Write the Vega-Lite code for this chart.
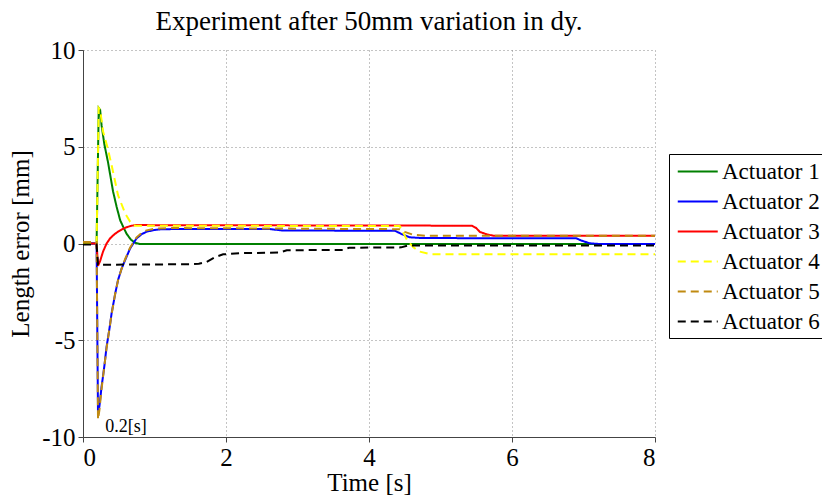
{
  "$schema": "https://vega.github.io/schema/vega-lite/v6.json",
  "autosize": {"type": "none"},
  "width": 572,
  "height": 387,
  "padding": {"left": 83, "top": 50, "right": 167, "bottom": 60},
  "background": "white",
  "title": {"text": "Experiment after 50mm variation in dy.", "fontSize": 27, "font": "Liberation Serif", "fontWeight": "normal", "color": "black", "offset": 2, "anchor": "middle"},
  "config": {
    "font": "Liberation Serif",
    "view": {"stroke": null},
    "axis": {
      "labelFont": "Liberation Serif", "titleFont": "Liberation Serif",
      "labelFontSize": 25, "titleFontSize": 25, "titleFontWeight": "normal",
      "labelColor": "black", "titleColor": "black",
      "domainColor": "#444", "tickColor": "#444", "tickSize": 5,
      "gridColor": "#888", "gridDash": [1, 3], "gridWidth": 1, "gridOpacity": 1,
      "labelPadding": 3
    },
    "legend": {
      "labelFont": "Liberation Serif", "labelFontSize": 23, "labelColor": "black"
    }
  },
  "layer": [
    {
      "data": {"values": [
        {"s":"Actuator 1","t":0,"v":0},{"s":"Actuator 1","t":0.19,"v":0},{"s":"Actuator 1","t":0.22,"v":7.0},{"s":"Actuator 1","t":0.24,"v":6.9},{"s":"Actuator 1","t":0.26,"v":6.1},{"s":"Actuator 1","t":0.30,"v":5.1},{"s":"Actuator 1","t":0.35,"v":4.2},{"s":"Actuator 1","t":0.42,"v":2.7},{"s":"Actuator 1","t":0.47,"v":1.9},{"s":"Actuator 1","t":0.52,"v":1.2},{"s":"Actuator 1","t":0.57,"v":0.8},{"s":"Actuator 1","t":0.61,"v":0.5},{"s":"Actuator 1","t":0.67,"v":0.2},{"s":"Actuator 1","t":0.73,"v":0.03},{"s":"Actuator 1","t":0.8,"v":-0.03},{"s":"Actuator 1","t":8,"v":-0.03},
        {"s":"Actuator 2","t":0,"v":0},{"s":"Actuator 2","t":0.19,"v":0},{"s":"Actuator 2","t":0.21,"v":-8.86},{"s":"Actuator 2","t":0.23,"v":-8.4},{"s":"Actuator 2","t":0.26,"v":-7.4},{"s":"Actuator 2","t":0.30,"v":-6.3},{"s":"Actuator 2","t":0.33,"v":-5.33},{"s":"Actuator 2","t":0.37,"v":-4.4},{"s":"Actuator 2","t":0.40,"v":-3.61},{"s":"Actuator 2","t":0.45,"v":-2.6},{"s":"Actuator 2","t":0.49,"v":-1.89},{"s":"Actuator 2","t":0.54,"v":-1.3},{"s":"Actuator 2","t":0.59,"v":-0.85},{"s":"Actuator 2","t":0.66,"v":-0.25},{"s":"Actuator 2","t":0.75,"v":0.27},{"s":"Actuator 2","t":0.82,"v":0.48},{"s":"Actuator 2","t":0.89,"v":0.61},{"s":"Actuator 2","t":1.0,"v":0.7},{"s":"Actuator 2","t":1.08,"v":0.73},{"s":"Actuator 2","t":1.3,"v":0.75},{"s":"Actuator 2","t":2.6,"v":0.75},{"s":"Actuator 2","t":2.8,"v":0.67},{"s":"Actuator 2","t":4.36,"v":0.66},{"s":"Actuator 2","t":4.45,"v":0.5},{"s":"Actuator 2","t":4.57,"v":0.32},{"s":"Actuator 2","t":4.75,"v":0.28},{"s":"Actuator 2","t":6.9,"v":0.27},{"s":"Actuator 2","t":6.97,"v":0.15},{"s":"Actuator 2","t":7.09,"v":0.01},{"s":"Actuator 2","t":7.2,"v":-0.02},{"s":"Actuator 2","t":8,"v":-0.02},
        {"s":"Actuator 3","t":0,"v":0},{"s":"Actuator 3","t":0.19,"v":0},{"s":"Actuator 3","t":0.21,"v":-1.15},{"s":"Actuator 3","t":0.24,"v":-0.9},{"s":"Actuator 3","t":0.28,"v":-0.42},{"s":"Actuator 3","t":0.33,"v":0},{"s":"Actuator 3","t":0.38,"v":0.27},{"s":"Actuator 3","t":0.44,"v":0.48},{"s":"Actuator 3","t":0.49,"v":0.61},{"s":"Actuator 3","t":0.55,"v":0.74},{"s":"Actuator 3","t":0.61,"v":0.84},{"s":"Actuator 3","t":0.67,"v":0.91},{"s":"Actuator 3","t":0.73,"v":0.95},{"s":"Actuator 3","t":0.85,"v":0.95},{"s":"Actuator 3","t":5.44,"v":0.92},{"s":"Actuator 3","t":5.5,"v":0.8},{"s":"Actuator 3","t":5.55,"v":0.6},{"s":"Actuator 3","t":5.65,"v":0.47},{"s":"Actuator 3","t":5.74,"v":0.4},{"s":"Actuator 3","t":8,"v":0.4},
        {"s":"Actuator 4","t":0,"v":0},{"s":"Actuator 4","t":0.19,"v":0},{"s":"Actuator 4","t":0.22,"v":7.0},{"s":"Actuator 4","t":0.24,"v":6.9},{"s":"Actuator 4","t":0.28,"v":5.8},{"s":"Actuator 4","t":0.34,"v":5.0},{"s":"Actuator 4","t":0.40,"v":4.05},{"s":"Actuator 4","t":0.49,"v":2.5},{"s":"Actuator 4","t":0.59,"v":1.55},{"s":"Actuator 4","t":0.66,"v":1.12},{"s":"Actuator 4","t":0.73,"v":0.92},{"s":"Actuator 4","t":0.8,"v":0.92},{"s":"Actuator 4","t":4.43,"v":0.9},{"s":"Actuator 4","t":4.53,"v":0.2},{"s":"Actuator 4","t":4.62,"v":-0.2},{"s":"Actuator 4","t":4.71,"v":-0.42},{"s":"Actuator 4","t":4.85,"v":-0.55},{"s":"Actuator 4","t":8,"v":-0.55},
        {"s":"Actuator 5","t":0,"v":0.08},{"s":"Actuator 5","t":0.19,"v":0.08},{"s":"Actuator 5","t":0.21,"v":-9.1},{"s":"Actuator 5","t":0.23,"v":-8.6},{"s":"Actuator 5","t":0.26,"v":-7.5},{"s":"Actuator 5","t":0.30,"v":-6.3},{"s":"Actuator 5","t":0.33,"v":-5.4},{"s":"Actuator 5","t":0.37,"v":-4.4},{"s":"Actuator 5","t":0.40,"v":-3.65},{"s":"Actuator 5","t":0.45,"v":-2.6},{"s":"Actuator 5","t":0.49,"v":-1.9},{"s":"Actuator 5","t":0.54,"v":-1.3},{"s":"Actuator 5","t":0.59,"v":-0.8},{"s":"Actuator 5","t":0.66,"v":-0.2},{"s":"Actuator 5","t":0.75,"v":0.32},{"s":"Actuator 5","t":0.82,"v":0.55},{"s":"Actuator 5","t":0.89,"v":0.68},{"s":"Actuator 5","t":1.0,"v":0.76},{"s":"Actuator 5","t":1.2,"v":0.8},{"s":"Actuator 5","t":4.43,"v":0.74},{"s":"Actuator 5","t":4.5,"v":0.6},{"s":"Actuator 5","t":4.62,"v":0.45},{"s":"Actuator 5","t":4.8,"v":0.4},{"s":"Actuator 5","t":8,"v":0.4},
        {"s":"Actuator 6","t":0,"v":-0.05},{"s":"Actuator 6","t":0.19,"v":-0.05},{"s":"Actuator 6","t":0.21,"v":-1.1},{"s":"Actuator 6","t":1.5,"v":-1.07},{"s":"Actuator 6","t":1.62,"v":-1.05},{"s":"Actuator 6","t":1.73,"v":-0.95},{"s":"Actuator 6","t":1.85,"v":-0.7},{"s":"Actuator 6","t":1.96,"v":-0.56},{"s":"Actuator 6","t":2.2,"v":-0.5},{"s":"Actuator 6","t":2.75,"v":-0.47},{"s":"Actuator 6","t":2.85,"v":-0.35},{"s":"Actuator 6","t":3.65,"v":-0.33},{"s":"Actuator 6","t":3.72,"v":-0.22},{"s":"Actuator 6","t":4.45,"v":-0.2},{"s":"Actuator 6","t":4.55,"v":-0.1},{"s":"Actuator 6","t":8,"v":-0.1}
      ]},
      "mark": {"type": "line", "strokeWidth": 2, "clip": true},
      "encoding": {
        "x": {"field": "t", "type": "quantitative", "scale": {"domain": [0, 8], "nice": false}, "axis": {"values": [0, 2, 4, 6, 8], "title": "Time [s]", "labelPadding": 3, "titlePadding": 0, "labelExpr": "'' + datum.value"}},
        "y": {"field": "v", "type": "quantitative", "scale": {"domain": [-10, 10], "nice": false}, "axis": {"values": [-10, -5, 0, 5, 10], "title": "Length error [mm]", "labelPadding": 3, "titlePadding": 8, "labelExpr": "'' + datum.value"}},
        "color": {"field": "s", "type": "nominal", "scale": {"domain": ["Actuator 1","Actuator 2","Actuator 3","Actuator 4","Actuator 5","Actuator 6"], "range": ["#008000","#0000FF","#FF0000","#FFFF00","#C08A10","#000000"]},
          "legend": {"title": null, "orient": "none", "legendX": 586, "legendY": 104, "fillColor": "white", "strokeColor": "black", "padding": 4, "symbolType": "M-0.7,0H2.5", "symbolSize": 625, "symbolStrokeWidth": 2, "rowPadding": 4, "labelOffset": 22, "labelFontSize": 23}},
        "strokeDash": {"field": "s", "type": "nominal", "scale": {"domain": ["Actuator 1","Actuator 2","Actuator 3","Actuator 4","Actuator 5","Actuator 6"], "range": [[1,0],[1,0],[1,0],[8,5],[8,5],[8,5]]}},
        "strokeWidth": {"condition": {"test": "datum.s === 'Actuator 5'", "value": 3}, "value": 2},
        "order": {"field": "t", "type": "quantitative"}
      }
    },
    {
      "data": {"values": [{"t": 0.31, "v": -9.48, "label": "0.2[s]"}]},
      "mark": {"type": "text", "align": "left", "baseline": "middle", "fontSize": 18, "font": "Liberation Serif", "color": "black"},
      "encoding": {
        "x": {"field": "t", "type": "quantitative"},
        "y": {"field": "v", "type": "quantitative"},
        "text": {"field": "label"}
      }
    }
  ]
}
